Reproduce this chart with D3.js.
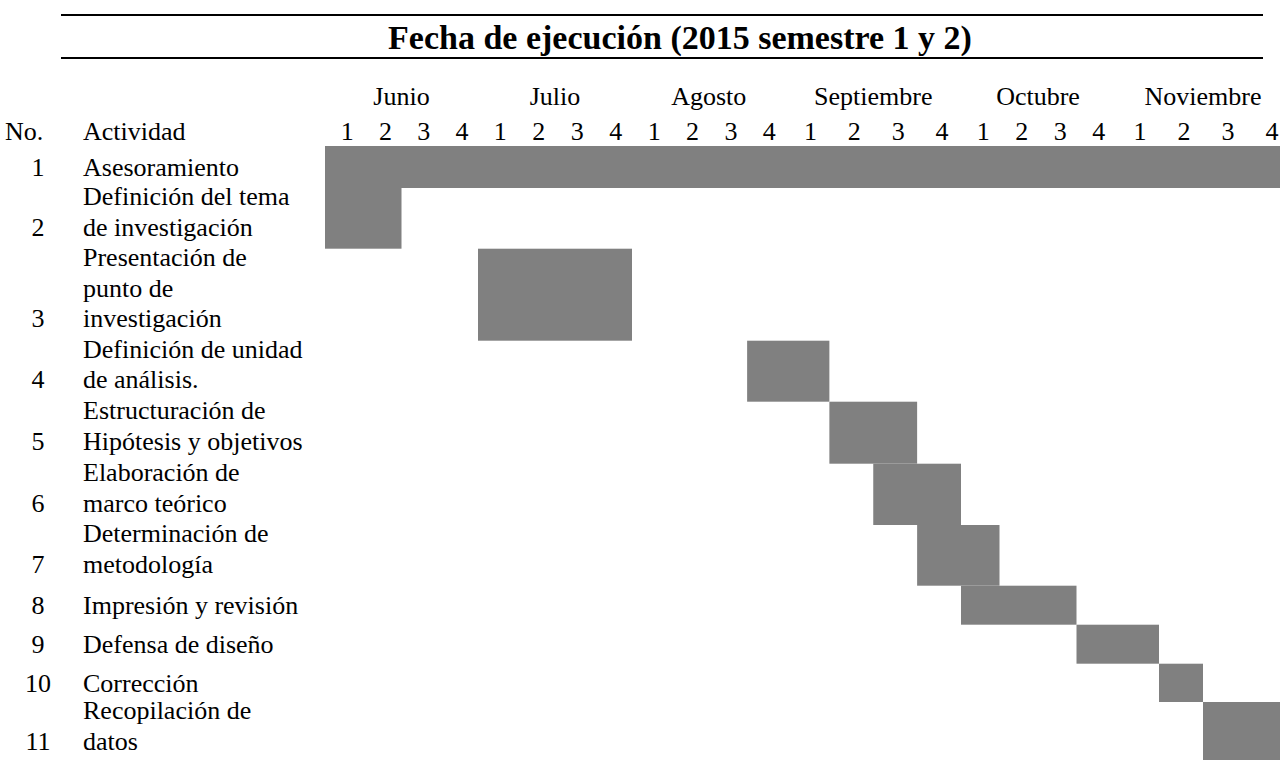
<!DOCTYPE html>
<html>
<head>
<meta charset="utf-8">
<script src="https://cdn.jsdelivr.net/npm/d3@7"></script>
<style>
  html, body { margin: 0; padding: 0; background: #fff; }
  svg { display: block; font-family: "Liberation Serif", "Times New Roman", serif; }
</style>
</head>
<body>
<svg id="chart" width="1280" height="760"></svg>
<script>
const title = "Fecha de ejecución (2015 semestre 1 y 2)";
const months = ["Junio", "Julio", "Agosto", "Septiembre", "Octubre", "Noviembre"];
const weekLabels = ["1", "2", "3", "4"];
const activityNo = [1, 2, 3, 4, 5, 6, 7, 8, 9, 10, 11];
const activityLines = [
    ["Asesoramiento"],
    ["Definición del tema", "de investigación"],
    ["Presentación de", "punto de", "investigación"],
    ["Definición de unidad", "de análisis."],
    ["Estructuración de", "Hipótesis y objetivos"],
    ["Elaboración de", "marco teórico"],
    ["Determinación de", "metodología"],
    ["Impresión y revisión"],
    ["Defensa de diseño"],
    ["Corrección"],
    ["Recopilación de", "datos"]
];
// first week (0 = week 1 of Junio) and length in weeks
const startWeek = [0, 0, 4, 11, 13, 14, 15, 16, 19, 21, 22];
const durationWeeks = [24, 2, 4, 2, 2, 2, 2, 3, 2, 1, 2];

// table geometry (the month columns are not all the same width)
const monthEdges = [325, 478, 632, 785.5, 961, 1115, 1291];
const rowEdges = [146, 188, 248.7, 340.7, 401.7, 463.7, 525, 585.7, 624.7, 663.7, 702, 763];
const lineHeight = 30.5;
const fontSize = 26;

const svg = d3.select("#chart");

const x = d3.scaleLinear()
    .domain(months.map((m, i) => i * 4).concat([months.length * 4]))
    .range(monthEdges);

const y = d3.scaleLinear()
    .domain(d3.range(rowEdges.length))
    .range(rowEdges);

// header rules and title
svg.selectAll(".rule")
    .data([15, 58])
    .enter()
    .append("line")
    .attr("x1", 61)
    .attr("x2", 1263)
    .attr("y1", d => d)
    .attr("y2", d => d)
    .attr("stroke", "#000")
    .attr("stroke-width", 2);

svg.append("text")
    .attr("x", 680)
    .attr("y", 49)
    .attr("text-anchor", "middle")
    .attr("font-weight", "bold")
    .attr("font-size", 34)
    .text(title);

// month names
svg.selectAll(".month")
    .data(months)
    .enter()
    .append("text")
    .attr("x", (d, i) => x(i * 4 + 2))
    .attr("y", 105)
    .attr("text-anchor", "middle")
    .attr("font-size", fontSize)
    .text(d => d);

// week numbers
const weeks = d3.range(months.length * 4);
svg.selectAll(".week")
    .data(weeks)
    .enter()
    .append("text")
    .attr("x", d => x(d + 0.5) + 3)
    .attr("y", 140)
    .attr("text-anchor", "middle")
    .attr("font-size", fontSize)
    .text(d => weekLabels[d % 4]);

svg.append("text")
    .attr("x", 5)
    .attr("y", 140)
    .attr("font-size", fontSize)
    .text("No.");

svg.append("text")
    .attr("x", 83)
    .attr("y", 140)
    .attr("font-size", fontSize)
    .text("Actividad");

// bars
svg.selectAll(".bar")
    .data(activityNo)
    .enter()
    .append("rect")
    .attr("x", (d, i) => x(startWeek[i]))
    .attr("y", (d, i) => y(i))
    .attr("width", (d, i) => x(startWeek[i] + durationWeeks[i]) - x(startWeek[i]))
    .attr("height", (d, i) => y(i + 1) - y(i))
    .attr("fill", "#808080");

// activity labels; wrapped labels sit a little high in their row
const baseline = (i, j) => {
    const n = activityLines[i].length;
    const c = (y(i) + y(i + 1)) / 2;
    return c + (j - (n - 1) / 2) * lineHeight + (n > 1 ? 2 : 9);
};

const rows = svg.selectAll(".row")
    .data(activityNo)
    .enter()
    .append("g");

rows.append("text")
    .attr("x", 38)
    .attr("y", (d, i) => baseline(i, activityLines[i].length - 1))
    .attr("text-anchor", "middle")
    .attr("font-size", fontSize)
    .text(d => d);

rows.each(function(d, i) {
    d3.select(this).selectAll("text.lbl")
        .data(activityLines[i])
        .enter()
        .append("text")
        .attr("class", "lbl")
        .attr("x", 83)
        .attr("y", (t, j) => baseline(i, j))
        .attr("font-size", fontSize)
        .text(t => t);
});
</script>
</body>
</html>
